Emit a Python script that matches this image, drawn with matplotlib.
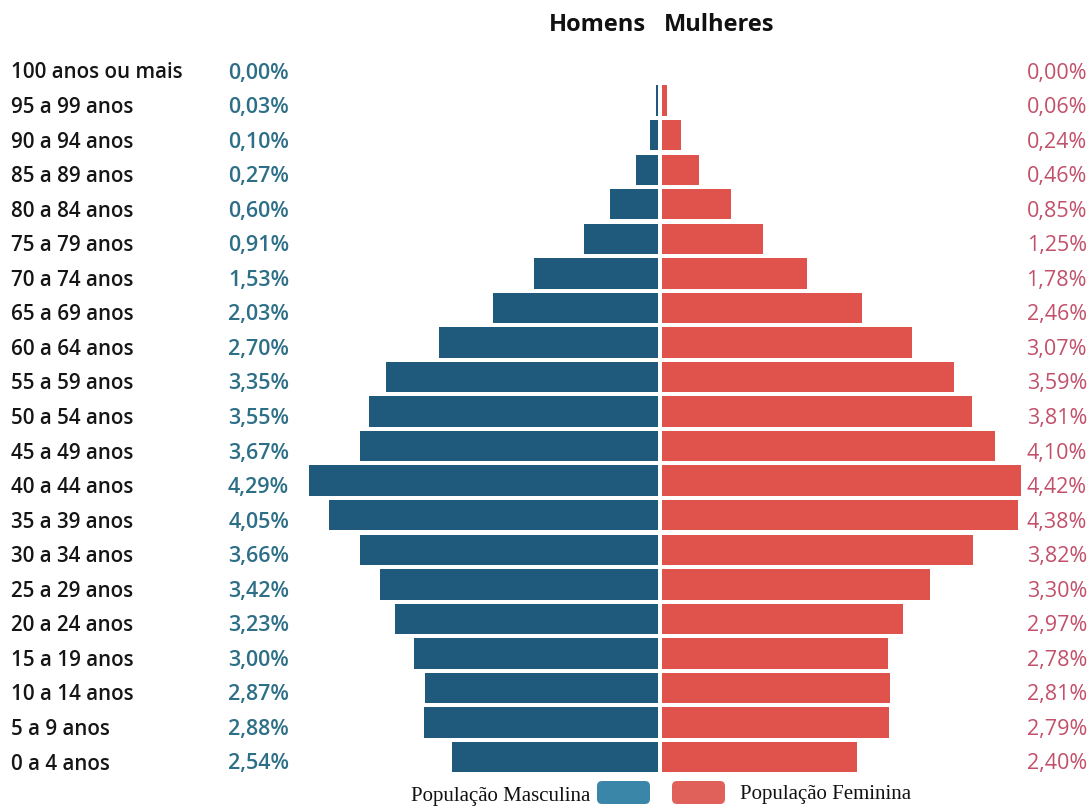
import matplotlib
matplotlib.use("Agg")
import matplotlib.pyplot as plt
from matplotlib.patches import FancyBboxPatch

categories = ["100 anos ou mais", "95 a 99 anos", "90 a 94 anos", "85 a 89 anos",
              "80 a 84 anos", "75 a 79 anos", "70 a 74 anos", "65 a 69 anos",
              "60 a 64 anos", "55 a 59 anos", "50 a 54 anos", "45 a 49 anos",
              "40 a 44 anos", "35 a 39 anos", "30 a 34 anos", "25 a 29 anos",
              "20 a 24 anos", "15 a 19 anos", "10 a 14 anos", "5 a 9 anos", "0 a 4 anos"]
male = [0.00, 0.03, 0.10, 0.27, 0.60, 0.91, 1.53, 2.03, 2.70, 3.35, 3.55, 3.67,
        4.29, 4.05, 3.66, 3.42, 3.23, 3.00, 2.87, 2.88, 2.54]
female = [0.00, 0.06, 0.24, 0.46, 0.85, 1.25, 1.78, 2.46, 3.07, 3.59, 3.81, 4.10,
          4.42, 4.38, 3.82, 3.30, 2.97, 2.78, 2.81, 2.79, 2.40]

W, H = 1092, 808
fig = plt.figure(figsize=(W / 100, H / 100), dpi=100)
ax = fig.add_axes([0, 0, 1, 1])
ax.set_axis_off()

PX = 81.4      # px per percent
CX = 660       # centre pixel
RY = 34.55     # px per row
Y0 = 764       # pixel of bottom row label
ax.set_xlim(-CX / PX, (W - CX) / PX)
ax.set_ylim(-(H - Y0) / RY, Y0 / RY)

n = len(categories)
ypos = [n - 1 - i for i in range(n)]
bar_y = [y + 0.2 for y in ypos]

male_col = "#1f5a7c"
fem_col = "#e0524c"
ax.barh(bar_y, [-m for m in male], height=0.88, color=male_col, left=-0.02, edgecolor="none")
ax.barh(bar_y, female, height=0.88, color=fem_col, left=0.02, edgecolor="none")

font = "Open Sans"
for y, cat, m, f in zip(ypos, categories, male, female):
    ax.text(-(CX - 11) / PX, y, cat, ha="left", va="center", fontsize=14.8,
            fontfamily=font, fontweight="semibold", color="#151515")
    ax.text(-(CX - 289) / PX, y, f"{m:.2f}%".replace(".", ","), ha="right", va="center",
            fontsize=15.5, fontfamily=font, fontweight="semibold", color="#2e6f88")
    ax.text((1087 - CX) / PX, y, f"{f:.2f}%".replace(".", ","), ha="right", va="center",
            fontsize=15.5, fontfamily=font, color="#c2506a")

fig.text(646 / W, 1 - 25 / H, "Homens", ha="right", va="center", fontsize=17,
         fontfamily=font, fontweight="bold", color="#111111")
fig.text(664 / W, 1 - 25 / H, "Mulheres", ha="left", va="center", fontsize=17,
         fontfamily=font, fontweight="bold", color="#111111")

# legend
tr = fig.dpi_scale_trans
for x0, col in [(5.97, "#3a86a8"), (6.72, "#e0605a")]:
    p = FancyBboxPatch((x0, 0.04), 0.53, 0.23, boxstyle="round,pad=0,rounding_size=0.05",
                       transform=tr, facecolor=col, edgecolor="none")
    fig.patches.append(p)
fig.text(590 / W, 1 - 797 / H, "População Masculina", ha="right", va="center",
         fontsize=15, fontfamily="Liberation Serif", color="#111111")
fig.text(740 / W, 1 - 795 / H, "População Feminina", ha="left", va="center",
         fontsize=15, fontfamily="Liberation Serif", color="#111111")

fig.savefig("out.png", dpi=100, facecolor="white")
